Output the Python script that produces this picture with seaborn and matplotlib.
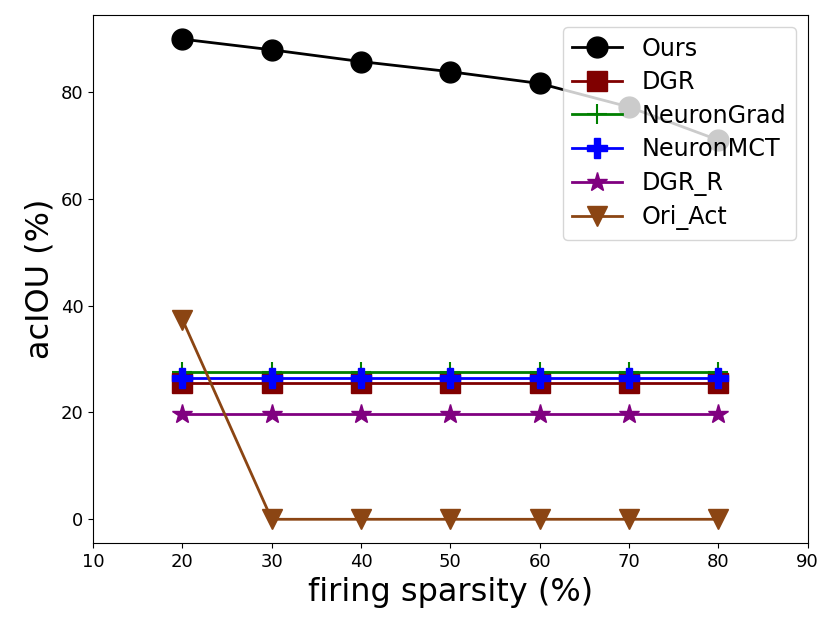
import numpy as np
import matplotlib
matplotlib.use('Agg')
import matplotlib.pyplot as plt
import seaborn as sns

sparsity = [20, 30, 40, 50, 60, 70, 80]
ours = [89.9, 87.9, 85.7, 83.8, 81.6, 77.2, 71.0]
dgr = [25.5, 25.5, 25.5, 25.5, 25.5, 25.5, 25.5]
neuron_grad = [27.5, 27.5, 27.5, 27.5, 27.5, 27.5, 27.5]
neuron_mct = [26.4, 26.4, 26.4, 26.4, 26.4, 26.4, 26.4]
dgr_r = [19.8, 19.8, 19.8, 19.8, 19.8, 19.8, 19.8]
ori_act = [37.4, 0, 0, 0, 0, 0, 0]

series = [
	('Ours', ours, 'black', 'o'),
	('DGR', dgr, '#800000', 's'),
	('NeuronGrad', neuron_grad, 'green', '+'),
	('NeuronMCT', neuron_mct, 'blue', 'P'),
	('DGR_R', dgr_r, 'purple', '*'),
	('Ori_Act', ori_act, '#8B4513', 'v'),
]

fig = plt.figure(figsize=(8.31, 6.31), dpi=100)
ax = fig.add_axes([0.112, 0.139, 0.860, 0.837])

for name, vals, col, mk in series:
	sns.lineplot(x=sparsity, y=vals, ax=ax, color=col, marker=mk,
		markersize=15, linewidth=2, markeredgecolor=col,
		markeredgewidth=1.5 if mk == '+' else 1, label=name)

ax.set_xlim(10, 90)
ax.set_xticks(range(10, 91, 10))
ax.set_yticks([0, 20, 40, 60, 80])
ax.tick_params(labelsize=13)
ax.set_xlabel('firing sparsity (%)', fontsize=23)
ax.set_ylabel('acIOU (%)', fontsize=23)
ax.legend(loc='upper right', fontsize=17.2, labelspacing=0.4, handlelength=2.1)

plt.savefig('out.png', dpi=100)
